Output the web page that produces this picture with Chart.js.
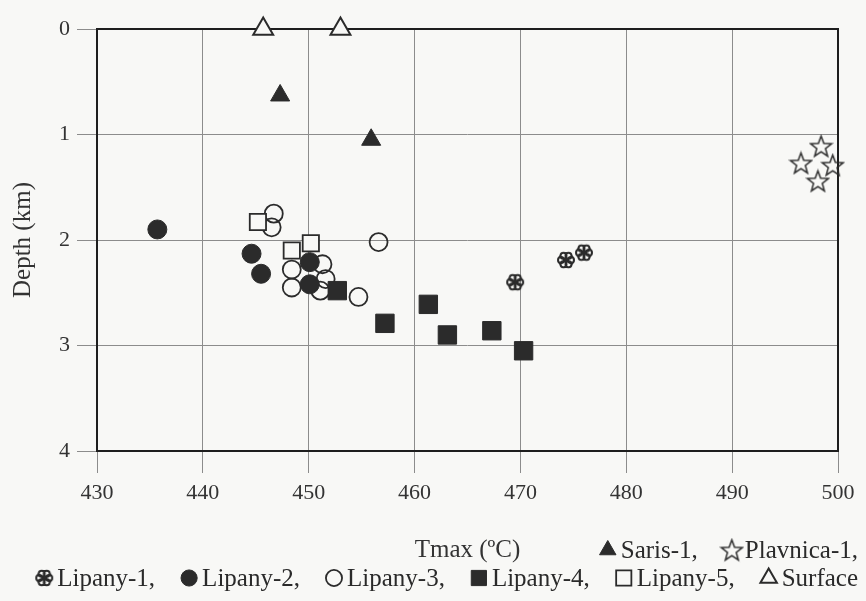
<!DOCTYPE html>
<html>
<head>
<meta charset="utf-8">
<script src="https://cdn.jsdelivr.net/npm/chart.js@4/dist/chart.umd.min.js"></script>
<style>
  body { margin: 0; background: #f8f8f6; }
  #wrap { width: 866px; height: 601px; }
</style>
</head>
<body>
<div id="wrap"><canvas id="tmaxChart"></canvas></div>
<script>
// Tmax (°C) and depth (km)
const sarisTmax = [447.3, 455.9];
const sarisDepth = [0.63, 1.05];
const plavnicaTmax = [498.4, 496.5, 499.5, 498.1];
const plavnicaDepth = [1.11, 1.27, 1.29, 1.44];
const lipany1Tmax = [469.5, 474.3, 476.0];
const lipany1Depth = [2.40, 2.19, 2.12];
const lipany2Tmax = [435.7, 444.6, 445.5, 450.1, 450.1];
const lipany2Depth = [1.90, 2.13, 2.32, 2.21, 2.42];
const lipany3Tmax = [446.7, 446.5, 456.6, 448.4, 448.4, 451.3, 451.6, 451.1, 454.7];
const lipany3Depth = [1.75, 1.88, 2.02, 2.28, 2.45, 2.23, 2.37, 2.48, 2.54];
const lipany4Tmax = [452.7, 457.2, 461.3, 463.1, 467.3, 470.3];
const lipany4Depth = [2.48, 2.79, 2.61, 2.90, 2.86, 3.05];
const lipany5Tmax = [445.2, 448.4, 450.2];
const lipany5Depth = [1.83, 2.10, 2.03];
const surfaceTmax = [445.7, 453.0];
const surfaceDepth = [0, 0];

// ejes
const xTicks = [430, 440, 450, 460, 470, 480, 490, 500];
const yTicks = [0, 1, 2, 3, 4];

const ink = '#2b2b2b';
const bg = '#f8f8f6';
const serif = "'Liberation Serif', 'DejaVu Serif', serif";

// marcador estrella (contorno de 5 puntas)
function makeStar(size) {
    const c = document.createElement('canvas');
    c.width = size; c.height = size;
    const g = c.getContext('2d');
    const cx = size / 2, cy = size / 2 + 1, ro = size / 2 - 1.5, ri = ro * 0.42;
    g.beginPath();
    for (let i = 0; i < 10; i++) {
        const r = i % 2 === 0 ? ro : ri;
        const a = -Math.PI / 2 + i * Math.PI / 5;
        g.lineTo(cx + r * Math.cos(a), cy + r * Math.sin(a));
    }
    g.closePath();
    g.strokeStyle = ink;
    g.lineWidth = 1.5;
    g.stroke();
    return c;
}

// marcador "copo" (rueda de 6 pétalos)
function makeFlake(size) {
    const c = document.createElement('canvas');
    c.width = size; c.height = size;
    const g = c.getContext('2d');
    const cx = size / 2, cy = size / 2;
    g.strokeStyle = ink;
    g.lineWidth = 2;
    for (let i = 0; i < 6; i++) {
        const a = i * Math.PI / 3;
        g.beginPath();
        g.arc(cx + 5 * Math.cos(a), cy + 5 * Math.sin(a), 3, 0, Math.PI * 2);
        g.stroke();
    }
    g.beginPath();
    for (let i = 0; i < 3; i++) {
        const a = i * Math.PI / 3 + Math.PI / 6;
        g.moveTo(cx - 8 * Math.cos(a), cy - 8 * Math.sin(a));
        g.lineTo(cx + 8 * Math.cos(a), cy + 8 * Math.sin(a));
    }
    g.stroke();
    return c;
}

const starImg = makeStar(25);
const flakeImg = makeFlake(20);

function toPoints(xs, ys) {
    return xs.map((x, i) => ({ x: x, y: ys[i] }));
}

// el índice 0 se dibuja encima
const datasets = [
    { label: 'Saris-1', data: toPoints(sarisTmax, sarisDepth), pointStyle: 'triangle', pointRadius: 11, backgroundColor: ink, borderColor: ink, borderWidth: 1 },
    { label: 'Plavnica-1', data: toPoints(plavnicaTmax, plavnicaDepth), pointStyle: starImg, pointRadius: 12 },
    { label: 'Lipany-1', data: toPoints(lipany1Tmax, lipany1Depth), pointStyle: flakeImg, pointRadius: 10 },
    { label: 'Lipany-2', data: toPoints(lipany2Tmax, lipany2Depth), pointStyle: 'circle', pointRadius: 9.5, backgroundColor: ink, borderColor: ink, borderWidth: 1 },
    { label: 'Lipany-4', data: toPoints(lipany4Tmax, lipany4Depth), pointStyle: 'rect', pointRadius: 13, backgroundColor: ink, borderColor: ink, borderWidth: 1 },
    { label: 'Lipany-5', data: toPoints(lipany5Tmax, lipany5Depth), pointStyle: 'rect', pointRadius: 11.5, backgroundColor: bg, borderColor: ink, borderWidth: 1.8 },
    { label: 'Lipany-3', data: toPoints(lipany3Tmax, lipany3Depth), pointStyle: 'circle', pointRadius: 9, backgroundColor: 'rgba(0,0,0,0)', borderColor: ink, borderWidth: 1.8 },
    { label: 'Surface', data: toPoints(surfaceTmax, surfaceDepth), pointStyle: 'triangle', pointRadius: 11.5, backgroundColor: bg, borderColor: ink, borderWidth: 2 }
];
datasets.forEach(d => { d.clip = false; d.pointHoverRadius = d.pointRadius; });

// orden de la leyenda, en dos renglones
const legendRows = [
    ['Saris-1', 'Plavnica-1'],
    ['Lipany-1', 'Lipany-2', 'Lipany-3', 'Lipany-4', 'Lipany-5', 'Surface']
];

// marco del área del gráfico, por debajo de los puntos
const frame = {
    id: 'frame',
    beforeDatasetsDraw(chart) {
        const a = chart.chartArea;
        const ctx = chart.ctx;
        ctx.save();
        ctx.strokeStyle = '#1e1e1e';
        ctx.lineWidth = 2;
        ctx.strokeRect(a.left, a.top, a.right - a.left, a.bottom - a.top);
        ctx.restore();
    }
};

function drawMarker(ctx, ds, x, y, r) {
    const st = ds.pointStyle;
    if (typeof st !== 'string') {
        ctx.drawImage(st, x - st.width / 2, y - st.height / 2);
        return;
    }
    ctx.save();
    ctx.fillStyle = ds.backgroundColor;
    ctx.strokeStyle = ds.borderColor;
    ctx.lineWidth = ds.borderWidth;
    ctx.beginPath();
    if (st === 'circle') {
        ctx.arc(x, y, r * 0.85, 0, Math.PI * 2);
    } else if (st === 'rect') {
        const s = r * 0.8;
        ctx.rect(x - s, y - s, 2 * s, 2 * s);
    } else if (st === 'triangle') {
        ctx.moveTo(x, y - r);
        ctx.lineTo(x + r * 0.866, y + r * 0.5);
        ctx.lineTo(x - r * 0.866, y + r * 0.5);
        ctx.closePath();
    }
    ctx.fill();
    ctx.stroke();
    ctx.restore();
}

const legendRowsPlugin = {
    id: 'legendRows',
    afterDraw(chart) {
        const ctx = chart.ctx;
        const rowY = [550, 578];
        const rightEdge = 858;
        ctx.save();
        ctx.font = '25px ' + serif;
        ctx.fillStyle = '#2a2a2a';
        ctx.textBaseline = 'middle';
        legendRows.forEach((row, ri) => {
            const items = row.map((name, i) => {
                const text = name + (i < row.length - 1 || ri === 0 ? ',' : '');
                return { ds: chart.data.datasets.find(d => d.label === name), text: text, w: ctx.measureText(text).width };
            });
            const mark = 20, gap = 3, sep = 24;
            let total = 0;
            items.forEach((it, i) => { total += mark + gap + it.w + (i ? sep : 0); });
            let x = rightEdge - total;
            items.forEach(it => {
                drawMarker(ctx, it.ds, x + mark / 2, rowY[ri], 9.5);
                x += mark + gap;
                ctx.fillStyle = '#2a2a2a';
                ctx.fillText(it.text, x, rowY[ri] + 1);
                x += it.w + sep;
            });
        });
        ctx.restore();
    }
};

const chart = new Chart(document.getElementById('tmaxChart'), {
    type: 'scatter',
    data: { datasets: datasets },
    options: {
        responsive: true,
        maintainAspectRatio: false,
        animation: false,
        layout: { padding: { top: 29, right: 28, bottom: 0, left: 0 } },
        plugins: {
            legend: { display: false },
            tooltip: { enabled: false }
        },
        scales: {
            x: {
                type: 'linear',
                min: 430,
                max: 500,
                afterFit: s => { s.height = 150; },
                afterBuildTicks: s => { s.ticks = xTicks.map(v => ({ value: v })); },
                grid: { color: '#8c8c8c', lineWidth: 1, tickLength: 22, tickColor: '#8c8c8c' },
                border: { display: false },
                ticks: { color: '#333', padding: 7, font: { family: serif, size: 22 } },
                title: { display: true, text: 'Tmax (ºC)', color: '#333', font: { family: serif, size: 25 }, padding: { top: 0, bottom: 36 } }
            },
            y: {
                type: 'linear',
                reverse: true,
                min: 0,
                max: 4,
                afterFit: s => { s.width = 97; },
                afterBuildTicks: s => { s.ticks = yTicks.map(v => ({ value: v })); },
                grid: { color: '#8c8c8c', lineWidth: 1, tickLength: 20, tickColor: '#8c8c8c' },
                border: { display: false },
                ticks: { color: '#333', padding: 7, font: { family: serif, size: 22 } },
                title: { display: true, text: 'Depth (km)', color: '#333', font: { family: serif, size: 25 }, padding: { top: 8, bottom: 0 } }
            }
        }
    },
    plugins: [frame, legendRowsPlugin]
});
</script>
</body>
</html>
